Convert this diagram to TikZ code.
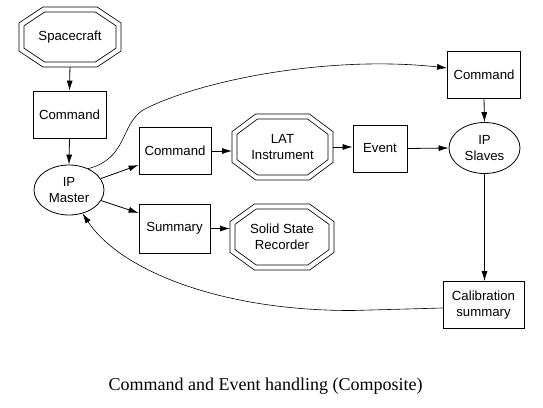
\documentclass[tikz,border=0pt]{standalone}
\usepackage{fontspec}
\setmainfont{Liberation Sans}
\newfontfamily\capfont{Liberation Serif}
\usetikzlibrary{arrows.meta,calc,shapes.geometric}
\newcommand\octonode[6]{%
  \node[octn, minimum width=#4, minimum height=#5] (#1) at (#2,#3) {#6};
  \draw[octline]
    ($(#1.north west)!0.23!(#1.north east)$) -- ($(#1.north west)!0.77!(#1.north east)$) --
    ($(#1.north east)!0.27!(#1.south east)$) -- ($(#1.north east)!0.73!(#1.south east)$) --
    ($(#1.south west)!0.77!(#1.south east)$) -- ($(#1.south west)!0.23!(#1.south east)$) --
    ($(#1.north west)!0.73!(#1.south west)$) -- ($(#1.north west)!0.27!(#1.south west)$) -- cycle;
}
\begin{document}
\begin{tikzpicture}[x=1pt,y=-1pt,
  every node/.style={font=\fontsize{13.2}{16.5}\selectfont, align=center, inner sep=0pt},
  box/.style={draw, line width=0.8pt, minimum height=47pt},
  oval/.style={draw, ellipse, line width=0.8pt, minimum width=70pt, minimum height=50pt},
  octn/.style={rectangle, outer sep=0pt},
  octline/.style={draw, line width=0.8pt, double, double distance=4.2pt},
  conn/.style={line width=0.8pt, -{Latex[length=10pt,width=6pt]}},
  curveconn/.style={line width=0.6pt, -{Latex[length=10pt,width=6pt]}}
]
\fill[white] (0,0) rectangle (543,407);
\useasboundingbox (0,0) rectangle (543,407);

\octonode{sc}{70}{37}{97}{55}{Spacecraft}
\node[box, minimum width=73pt] (cmda) at (69.5,114.5) {Command};
\node[oval] (ipm) at (69,190) {IP\\Master};
\node[box, minimum width=72pt] (cmdb) at (175,151) {Command};
\node[box, minimum width=71pt, minimum height=49pt] (sum) at (174.5,228.5) {Summary};
\octonode{lat}{282.5}{147}{96}{61}{LAT\\Instrument}
\octonode{ssr}{282}{237}{99}{61}{Solid State\\Recorder}
\node[box, minimum width=54pt] (ev) at (380,148.5) {Event};
\node[box, minimum width=73pt] (cmdc) at (484,74.5) {Command};
\node[oval, minimum width=71pt, minimum height=51pt] (ips) at (484.5,148) {IP\\Slaves};
\node[box, minimum width=81pt] (cal) at (483.5,305) {Calibration\\summary};

\node[font=\capfont\fontsize{18}{20}\selectfont, anchor=base] (cap) at (265.5,390) {Command and Event handling (Composite)};

% connectors
\draw[conn, shorten <=2.5pt] (sc.south) -- (cmda.north);
\draw[conn] (cmda.south) -- (ipm.north);
\draw[conn] (ipm) -- ($(cmdb.west)+(0,14)$);
\draw[conn] (ipm) -- ($(sum.west)+(0,-15.5)$);
\draw[conn, shorten >=2.5pt] (cmdb.east) -- (cmdb.east -| lat.west);
\draw[conn, shorten >=2.5pt] (sum.east) -- (sum.east -| ssr.west);
\draw[conn, shorten <=2.5pt] (lat.east) -- (lat.east -| ev.west);
\draw[conn] (ev.east) -- (ips.west);
\draw[conn] (cmdc.south) -- (ips.north);
\draw[conn] (ips.south) -- (ips.south |- cal.north);
\draw[curveconn] (ipm.48) .. controls (128,158) and (120,125) .. (143,110)
  .. controls (200,80) and (330,55) .. ($(cmdc.west)+(0,-6.5)$);
\draw[curveconn] ($(cal.west)+(0,3)$) -- (353,310.5)
  .. controls (220,311) and (120,270) .. (ipm.-60);
\end{tikzpicture}
\end{document}
